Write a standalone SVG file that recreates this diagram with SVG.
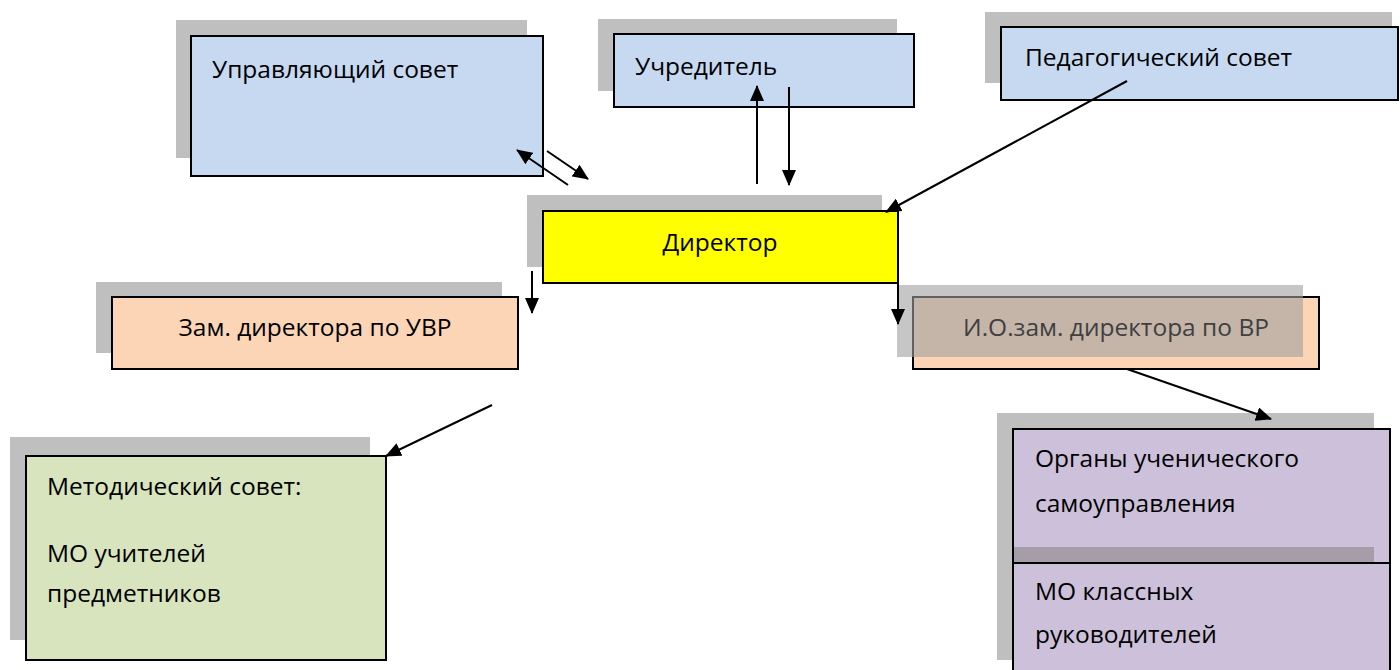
<svg xmlns="http://www.w3.org/2000/svg" width="1400" height="670" viewBox="0 0 1400 670">
<defs>
<marker id="ah" markerWidth="16" markerHeight="14" refX="15" refY="7" orient="auto" markerUnits="userSpaceOnUse" viewBox="0 0 16 14">
<path d="M0,0 L16,7 L0,14 z" fill="#000"/>
</marker>
<style>
.sh{fill:#bfbfbf}
.bx{stroke:#000;stroke-width:2}
.blue{fill:#c6d9f1}
.yel{fill:#ffff00}
.peach{fill:#fbd5b5}
.green{fill:#d7e4bd}
.purp{fill:#ccc0da}
text{font-family:"Open Sans","Noto Sans",sans-serif;font-size:24.5px;fill:#000}
.c{text-anchor:middle}
.ln{stroke:#000;stroke-width:2;fill:none;marker-end:url(#ah)}
</style>
</defs>
<rect width="1400" height="670" fill="#fff"/>
<g id="upravl">
<rect class="sh" x="176" y="20" width="351" height="138"/>
<rect class="bx blue" x="191" y="36" width="352" height="140"/>
<text x="212" y="78">Управляющий совет</text>
</g>
<g id="uchred">
<rect class="sh" x="598" y="19" width="299" height="72"/>
<rect class="bx blue" x="614" y="34" width="300" height="73"/>
<text x="635" y="75">Учредитель</text>
</g>
<g id="pedsovet">
<rect class="sh" x="985" y="12" width="407" height="71"/>
<rect class="bx blue" x="1001" y="27" width="397" height="73"/>
<text x="1025" y="66">Педагогический совет</text>
</g>
<g id="director">
<rect class="sh" x="527" y="195" width="355" height="72"/>
<rect class="bx yel" x="543" y="211" width="355" height="72"/>
<text class="c" x="720" y="251">Директор</text>
</g>
<g id="zamuvr">
<rect class="sh" x="96" y="282" width="406" height="71"/>
<rect class="bx peach" x="112" y="297" width="406" height="72"/>
<text class="c" x="315" y="336">Зам. директора по УВР</text>
</g>
<g id="zamvr">
<rect class="bx peach" x="913" y="297" width="406" height="72"/>
<rect x="897" y="285" width="406" height="72" fill="#a0a0a0" fill-opacity="0.6"/>
<text class="c" x="1116" y="336" style="fill:#404040">И.О.зам. директора по ВР</text>
</g>
<g id="metsovet">
<rect class="sh" x="10" y="437" width="360" height="203"/>
<rect class="bx green" x="26" y="456" width="360" height="204"/>
<text x="47" y="495">Методический совет:</text>
<text x="47" y="562">МО учителей</text>
<text x="47" y="602">предметников</text>
</g>
<g id="organy">
<rect class="sh" x="997" y="413" width="377" height="247"/>
<rect class="bx purp" x="1013" y="429" width="377" height="134"/>
<text x="1035" y="467">Органы ученического</text>
<text x="1035" y="512">самоуправления</text>
</g>
<g id="moklass">
<rect class="bx purp" x="1013" y="563" width="377" height="120"/>
<rect x="1014" y="547" width="360" height="15" fill="#a59da8"/>
<text x="1035" y="600">МО классных</text>
<text x="1035" y="643">руководителей</text>
</g>
<g id="connectors">
<line class="ln" x1="568" y1="185" x2="517" y2="150"/>
<line class="ln" x1="547" y1="151" x2="588" y2="179"/>
<line class="ln" x1="757" y1="184" x2="757" y2="86"/>
<line class="ln" x1="789" y1="87" x2="789" y2="185"/>
<line class="ln" x1="1127" y1="81" x2="886" y2="212"/>
<line class="ln" x1="532" y1="271" x2="532" y2="313"/>
<line class="ln" x1="898" y1="283" x2="898" y2="324"/>
<line class="ln" x1="492" y1="405" x2="386" y2="456"/>
<line class="ln" x1="1127" y1="369" x2="1271" y2="419"/>
</g>
</svg>
